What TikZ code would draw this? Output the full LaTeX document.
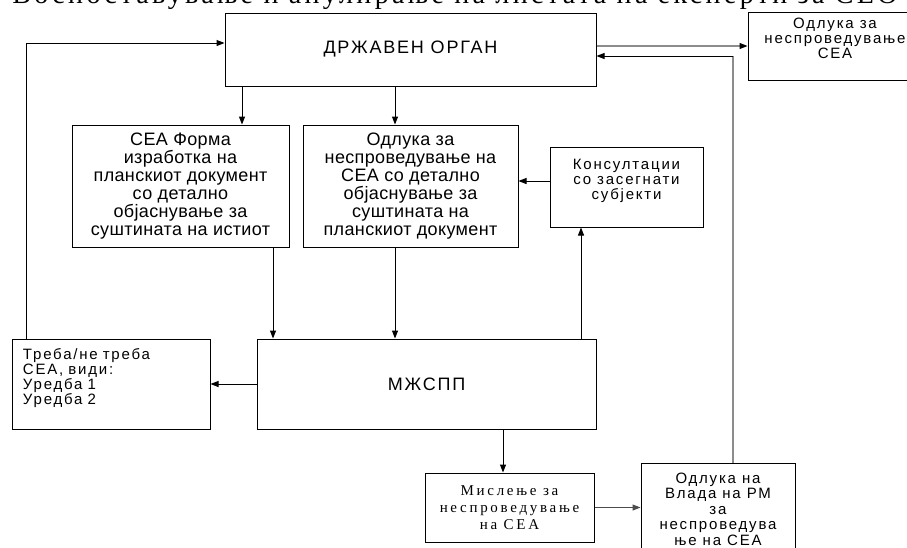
\documentclass[tikz,border=0pt]{standalone}
\usepackage{fontspec}
\setmainfont{Liberation Sans}
\newfontfamily\boxfont{Liberation Sans}[LetterSpace=2]
\newfontfamily\wideboxfont{Liberation Sans}[LetterSpace=10]
\newfontfamily\smallboxfont{Liberation Sans}[LetterSpace=12]
\newfontfamily\misfont{Liberation Serif}[LetterSpace=18]
\newfontfamily\titlefont{Liberation Serif}[LetterSpace=12]
\usetikzlibrary{arrows.meta}

\begin{document}
\begin{tikzpicture} [x=1pt, y=-1pt, >={Triangle[length=8pt,width=6pt]},
		box/.style={draw, line width=1pt, inner sep=0pt, align=center},
		big/.style={font=\boxfont\fontsize{18}{18}\selectfont},
		wide/.style={font=\wideboxfont\fontsize{18}{18}\selectfont},
		small/.style={font=\smallboxfont\fontsize{15}{15}\selectfont},
		grayline/.style={draw=black!45, line width=1.2pt},
		every path/.append style={line width=1pt}]
		\useasboundingbox (0,0) rectangle (907,547);
		\node[anchor=base, font=\titlefont\fontsize{28}{30}\selectfont] (title) at (455,3) {Воспоставување и анулирање на листата на експерти за СЕО};
		\node[box, wide, minimum width=371pt, minimum height=73pt] (organ) at (410.5,49.5) {ДРЖАВЕН ОРГАН};
		\node[box, small, minimum width=174pt, minimum height=68pt] (odltop) at (835,46) {Одлука за\\неспроведување\\СЕА\\\mbox{}};
		\node[box, big, minimum width=217pt, minimum height=122pt] (forma) at (180.5,186) {СЕА Форма\\изработка на\\планскиот документ\\со детално\\објаснување за\\суштината на истиот};
		\node[box, big, minimum width=215pt, minimum height=122pt] (odlmid) at (410.5,186) {Одлука за\\неспроведување на\\СЕА со детално\\објаснување за\\суштината на\\планскиот документ};
		\node[box, small, minimum width=153pt, minimum height=80pt] (cons) at (626.5,187) {Консултации\\со засегнати\\субјекти\\\mbox{}};
		\node[box, small, align=left, text width=176pt, minimum width=198pt, minimum height=90pt] (treba) at (111,384) {Треба/не треба\\СЕА, види:\\Уредба 1\\Уредба 2\\\mbox{}};
		\node[box, wide, minimum width=339pt, minimum height=90pt] (mzspp) at (426.5,384) {МЖСПП};
		\node[box, font=\misfont\fontsize{15}{17}\selectfont, minimum width=169pt, minimum height=69pt] (misl) at (509.5,507.5) {Мислење за\\неспроведување\\на СЕА};
		\node[box, font=\smallboxfont\fontsize{15}{15.5}\selectfont, minimum width=154pt, minimum height=92pt] (vlada) at (718,509) {Одлука на\\Влада на РМ\\за\\неспроведува\\ње на СЕА};
		\coordinate (loopx) at (26,0);
		\coordinate (ax1) at (242,0);
		\coordinate (ax2) at (395,0);
		\coordinate (ax3) at (273,0);
		\coordinate (ax4) at (581,0);
		\coordinate (ax5) at (503,0);
		\coordinate (retcorner) at (733,56);
		\draw[->] (treba.north -| loopx) |- ([yshift=6.5pt]organ.west);
		\draw[grayline, -{Triangle[length=8pt,width=6pt,color=black]}] (organ.east |- odltop.west) -- (odltop.west);
		\draw[grayline] (vlada.north -| retcorner) -- (retcorner);
		\draw[->] (retcorner) -- (retcorner -| organ.east);
		\draw[->] (organ.south -| ax1) -- (forma.north -| ax1);
		\draw[->] (organ.south -| ax2) -- (odlmid.north -| ax2);
		\draw[->] (forma.south -| ax3) -- (mzspp.north -| ax3);
		\draw[->] (odlmid.south -| ax2) -- (mzspp.north -| ax2);
		\draw[->] (mzspp.north -| ax4) -- (cons.south -| ax4);
		\draw[->] ([yshift=6pt]cons.west) -- ([yshift=6pt]cons.west -| odlmid.east);
		\draw[->] (mzspp.west) -- (treba.east);
		\draw[->] (mzspp.south -| ax5) -- (misl.north -| ax5);
		\draw[->, draw=black!70] (misl.east) -- (misl.east -| vlada.west);
		\end{tikzpicture}
\end{document}
